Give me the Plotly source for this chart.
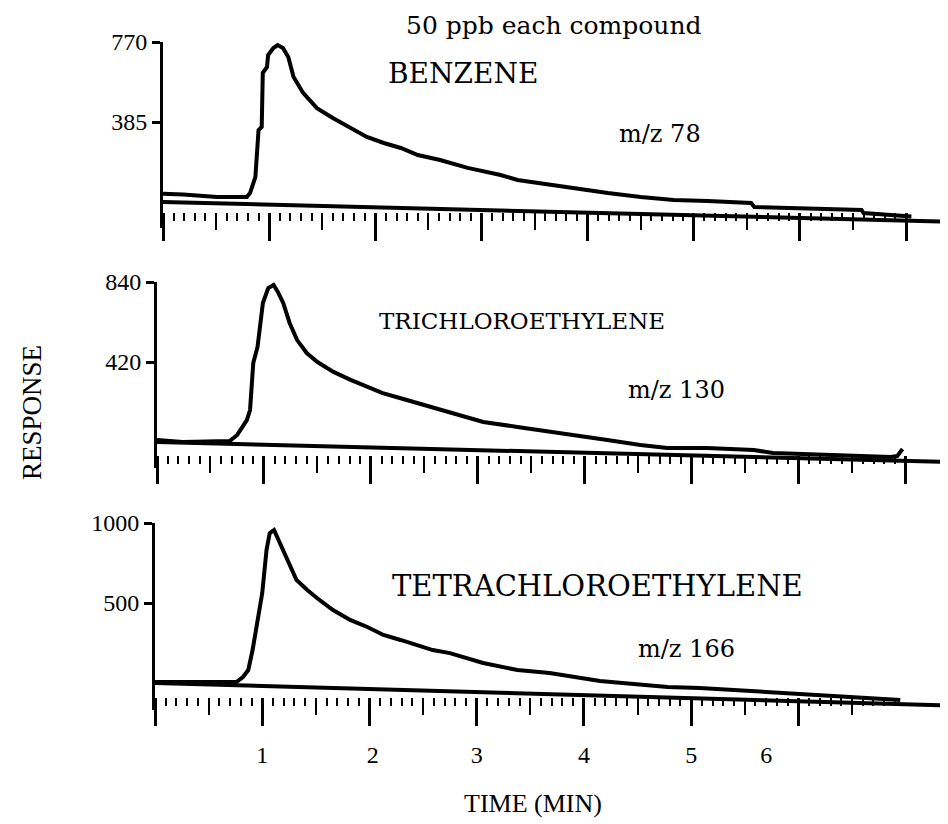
import numpy as np
import plotly.graph_objects as go

W, H = 948, 824

# ---------------- data ----------------
# Benzene, m/z 78  (time in min, response)
benz_t = [0.00, 0.19, 0.51, 0.79, 0.82, 0.87, 0.90, 0.93, 0.94, 0.98, 0.99, 1.04, 1.08,
          1.13, 1.18, 1.23, 1.32, 1.45, 1.60, 1.76, 1.92, 2.08, 2.24, 2.40, 2.61, 2.87,
          3.18, 3.34, 3.65, 3.87, 4.19, 4.50, 4.81, 5.13, 5.54, 5.57, 6.08, 6.58, 6.60, 7.05]
benz_v = [40, 36, 24, 24, 43, 120, 346, 361, 621, 650, 707, 741, 755,
          741, 698, 602, 525, 452, 404, 356, 313, 284, 260, 226, 202, 164,
          130, 106, 82, 67, 43, 24, 10, 5, -5, -24, -29, -38, -53, -70]

# Trichloroethylene, m/z 130
tce_t = [0.00, 0.24, 0.68, 0.75, 0.84, 0.87, 0.90, 0.94, 0.99, 1.04, 1.09, 1.13, 1.18,
         1.24, 1.31, 1.40, 1.50, 1.65, 1.81, 1.96, 2.11, 2.27, 2.43, 2.58, 2.74, 2.90,
         3.05, 3.37, 3.58, 3.89, 4.21, 4.52, 4.77, 5.14, 5.58, 5.76, 6.39, 6.86, 6.92, 6.97]
tce_v = [10, 0, 5, 37, 115, 168, 415, 499, 730, 808, 824, 788, 730,
         625, 535, 467, 420, 368, 326, 289, 257, 231, 205, 179, 158, 131,
         105, 79, 63, 37, 10, -16, -32, -32, -42, -58, -68, -79, -74, -37]

# Tetrachloroethylene, m/z 166
pce_t = [0.00, 0.76, 0.82, 0.87, 0.91, 0.95, 1.00, 1.04, 1.07, 1.11, 1.15, 1.19, 1.26,
         1.32, 1.42, 1.51, 1.66, 1.82, 1.98, 2.13, 2.29, 2.44, 2.59, 2.75, 2.91, 3.06,
         3.38, 3.68, 4.15, 4.78, 5.08, 5.71, 5.86, 6.48, 6.95]
pce_v = [6, 6, 37, 81, 206, 350, 562, 831, 937, 956, 894, 831, 725,
         644, 581, 531, 456, 394, 350, 300, 269, 237, 206, 187, 156, 125,
         81, 62, 12, -25, -31, -56, -62, -87, -106]

# drawn baselines (start / end of chart)
base_t = [0.0, 7.4]
benz_base = [0, -95]
tce_base = [0, -105]
pce_base = [0, -140]

compounds = ["BENZENE", "TRICHLOROETHYLENE", "TETRACHLOROETHYLENE"]
mz_labels = ["m/z 78", "m/z 130", "m/z 166"]
y_max = [770, 840, 1000]
y_tickvals = [[385, 770], [420, 840], [500, 1000]]
y_ticktext = [["385", "770"], ["420", "840"], ["500", "1000"]]
x_label_vals = [1.0, 2.03, 3.0, 4.0, 5.0, 5.7]
x_label_text = ["1", "2", "3", "4", "5", "6"]
tick_end = [7.0, 7.0, 6.9]

# ---------------- geometry (screen pixels) ----------------
panels = [
    dict(x0=163, top=42, zero=202, dom_bot=228, tick=212),
    dict(x0=157, top=282, zero=442, dom_bot=468, tick=455),
    dict(x0=155, top=523, zero=683, dom_bot=710, tick=697),
]
X_END = 7.47
OFF = 8  # page body margin


def py(p):
    return 1 - (p - OFF) / H


def px(p):
    return (p - OFF) / W


series = [(benz_t, benz_v, benz_base), (tce_t, tce_v, tce_base), (pce_t, pce_v, pce_base)]

fig = go.Figure()
layout = dict(
    width=W, height=H,
    margin=dict(l=0, r=0, t=0, b=0, pad=0),
    paper_bgcolor="white", plot_bgcolor="white",
    showlegend=False, hovermode=False,
)

TICK_FONT = dict(family="Liberation Serif", size=24, color="black")


def placeholder(xa, ya):
    # empty trace so that the overlay tick axis is drawn
    fig.add_trace(go.Scatter(x=[None], y=[None], mode="lines", xaxis=xa, yaxis=ya,
                             showlegend=False))


for i, (pan, (tt, vv, bb)) in enumerate(zip(panels, series)):
    k = i + 1
    xa = "x" if k == 1 else f"x{k}"
    ya = "y" if k == 1 else f"y{k}"
    xkey = "xaxis" if k == 1 else f"xaxis{k}"
    ykey = "yaxis" if k == 1 else f"yaxis{k}"

    upp = y_max[i] / (pan["zero"] - pan["top"])
    y_lo = -(pan["dom_bot"] - pan["zero"]) * upp

    fig.add_trace(go.Scatter(x=base_t, y=bb, mode="lines", xaxis=xa, yaxis=ya,
                             line=dict(color="black", width=4)))
    fig.add_trace(go.Scatter(x=tt, y=vv, mode="lines", xaxis=xa, yaxis=ya,
                             line=dict(color="black", width=4)))

    tenths = [round(v, 2) for v in np.arange(0, tick_end[i] + 1e-6, 0.1)]
    halves = [round(v, 2) for v in np.arange(0.5, tick_end[i] + 1e-6, 1.0)]
    ints = [float(v) for v in np.arange(0, tick_end[i] + 1e-6, 1.0)]

    layout[xkey] = dict(
        domain=[px(pan["x0"]), 1.0], range=[0, X_END], anchor="free", position=py(pan["tick"]),
        showline=False, showgrid=False, zeroline=False, showticklabels=False, automargin=False,
        ticks="outside", tickmode="array", tickvals=halves, ticklen=17, tickwidth=2.2,
        tickcolor="black",
        minor=dict(tickmode="array", tickvals=tenths, ticks="outside", ticklen=8,
                   tickwidth=2, tickcolor="black", showgrid=False),
    )
    layout[ykey] = dict(
        domain=[py(pan["dom_bot"]), py(pan["top"])], range=[y_lo, y_max[i]], anchor=xa,
        showline=True, linewidth=3, linecolor="black", showgrid=False, zeroline=False,
        automargin=False,
        ticks="outside", ticklen=8, tickwidth=3, tickcolor="black",
        tickmode="array", tickvals=y_tickvals[i], ticktext=y_ticktext[i], tickfont=TICK_FONT,
    )
    # long integer-minute ticks
    oname = f"x{k + 3}"
    okey = f"xaxis{k + 3}"
    layout[okey] = dict(
        overlaying=xa, range=[0, X_END], anchor="free", position=py(pan["tick"]),
        showline=False, showgrid=False, zeroline=False, showticklabels=False, automargin=False,
        ticks="outside", tickmode="array", tickvals=ints, ticklen=28, tickwidth=2.6,
        tickcolor="black",
    )
    placeholder(oname, ya)

# minute labels under the bottom panel
layout["xaxis7"] = dict(
    overlaying="x3", range=[0, X_END], anchor="free", position=py(panels[2]["tick"]),
    showline=False, showgrid=False, zeroline=False, ticks="", ticklen=0, automargin=False,
    tickmode="array", tickvals=x_label_vals, ticktext=x_label_text,
    tickfont=dict(family="Liberation Serif", size=24, color="black"), ticklabelstandoff=41,
)
placeholder("x7", "y3")

SERIF_W = "DejaVu Serif"
ann = []
ann.append(dict(text="50 ppb each compound", x=px(553), y=py(25), font=dict(family=SERIF_W, size=25)))
name_pos = [(463, 74), (522, 321), (597, 586)]
name_size = [28, 23, 29]
mz_pos = [(660, 134), (676, 390), (686, 649)]
for i in range(3):
    ann.append(dict(text=compounds[i], x=px(name_pos[i][0]), y=py(name_pos[i][1]),
                    font=dict(family=SERIF_W, size=name_size[i])))
    ann.append(dict(text=mz_labels[i], x=px(mz_pos[i][0]), y=py(mz_pos[i][1]),
                    font=dict(family=SERIF_W, size=24)))
ann.append(dict(text="RESPONSE", x=px(32), y=py(413), textangle=-90,
                font=dict(family="Liberation Serif", size=27)))
ann.append(dict(text="TIME (MIN)", x=px(533), y=py(803),
                font=dict(family="Liberation Serif", size=26)))
for a in ann:
    a.update(xref="paper", yref="paper", showarrow=False, xanchor="center", yanchor="middle")
    a["font"]["color"] = "black"
layout["annotations"] = ann

fig.update_layout(**layout)
fig.write_html("out.html")
